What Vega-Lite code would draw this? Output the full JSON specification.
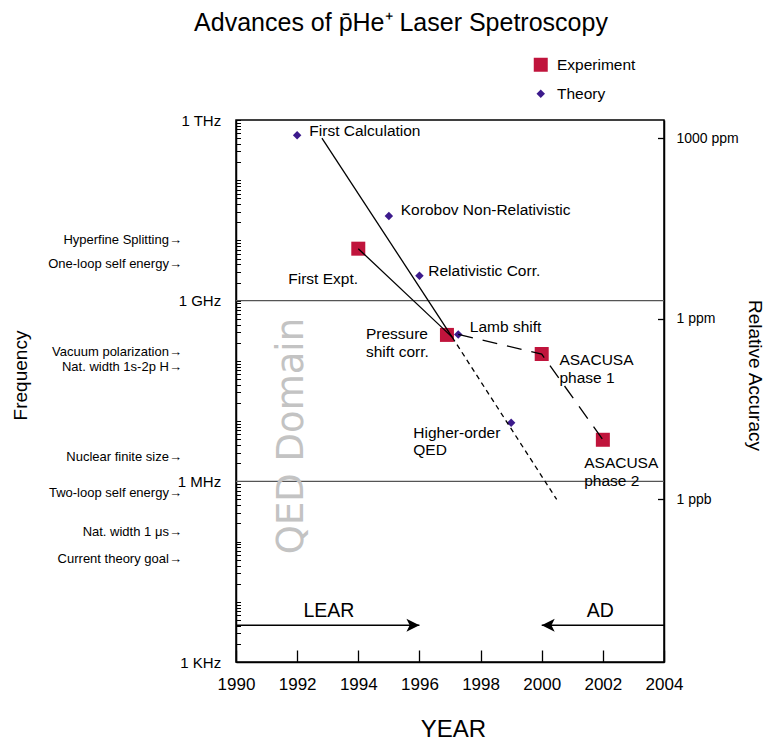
{
  "$schema": "https://vega.github.io/schema/vega-lite/v6.json",
  "width": 428,
  "height": 542,
  "autosize": {"type": "none"},
  "padding": {"left": 236, "top": 120, "right": 100, "bottom": 82},
  "title": {
    "text": "Advances of p̄He⁺ Laser Spetroscopy",
    "font": "Liberation Sans",
    "fontSize": 25,
    "fontWeight": "normal",
    "color": "#000",
    "anchor": "middle",
    "frame": "group",
    "dx": -49,
    "baseline": "alphabetic",
    "offset": 1
  },
  "config": {
    "font": "Liberation Sans",
    "view": {"stroke": "#000", "strokeWidth": 1.5},
    "axis": {
      "labelFont": "Liberation Sans",
      "titleFont": "Liberation Sans",
      "titleFontWeight": "normal",
      "labelColor": "#000",
      "titleColor": "#000",
      "domainColor": "#000",
      "domainWidth": 1.5,
      "tickColor": "#000",
      "grid": false,
      "labelFlush": false,
      "labelOverlap": false,
      "labelBound": false
    },
    "text": {"font": "Liberation Sans"}
  },
  "datasets": {
    "points": [
      {"label": "First Calculation", "type": "Theory", "year": 1992.0, "freq": 5.6e11},
      {"label": "Korobov Non-Relativistic", "type": "Theory", "year": 1995.0, "freq": 2.54e10},
      {"label": "Relativistic Corr.", "type": "Theory", "year": 1996.0, "freq": 2.6e9},
      {"label": "Lamb shift", "type": "Theory", "year": 1997.27, "freq": 2.75e8},
      {"label": "Higher-order QED", "type": "Theory", "year": 1999.0, "freq": 9.4e6},
      {"label": "First Expt.", "type": "Experiment", "year": 1994.0, "freq": 7.3e9},
      {"label": "Pressure shift corr.", "type": "Experiment", "year": 1996.9, "freq": 2.7e8},
      {"label": "ASACUSA phase 1", "type": "Experiment", "year": 2000.0, "freq": 1.3e8},
      {"label": "ASACUSA phase 2", "type": "Experiment", "year": 2002.0, "freq": 4.9e6}
    ],
    "segments": [
      {"seg": "calc", "year": 1992.81, "freq": 5.0e11},
      {"seg": "calc", "year": 1997.07, "freq": 2.48e8},
      {"seg": "expt", "year": 1994.0, "freq": 7.3e9},
      {"seg": "expt", "year": 1997.07, "freq": 2.48e8},
      {"seg": "qed", "year": 1997.07, "freq": 2.48e8},
      {"seg": "qed", "year": 2000.49, "freq": 5.0e5},
      {"seg": "asacusa", "year": 1997.27, "freq": 2.75e8},
      {"seg": "asacusa", "year": 2000.0, "freq": 1.3e8},
      {"seg": "asacusa", "year": 2002.0, "freq": 4.9e6},
      {"seg": "LEAR", "year": 1990.0, "freq": 4.08e3},
      {"seg": "LEAR", "year": 1996.0, "freq": 4.08e3},
      {"seg": "AD", "year": 2000.0, "freq": 4.08e3},
      {"seg": "AD", "year": 2004.0, "freq": 4.08e3}
    ],
    "arrowheads": [
      {"dir": "right", "year": 1996.0, "freq": 4.08e3},
      {"dir": "left", "year": 2000.0, "freq": 4.08e3}
    ],
    "labels": [
      {"label": "First Calculation", "year": 1992.40, "freq": 6.6e11},
      {"label": "Korobov Non-Relativistic", "year": 1995.39, "freq": 3.2e10},
      {"label": "Relativistic Corr.", "year": 1996.29, "freq": 3.1e9},
      {"label": "First Expt.", "year": 1991.71, "freq": 2.3e9},
      {"label": "Lamb shift", "year": 1997.65, "freq": 3.7e8},
      {"label": "Pressure\nshift corr.", "year": 1994.25, "freq": 2.75e8},
      {"label": "ASACUSA\nphase 1", "year": 2000.58, "freq": 1.03e8},
      {"label": "Higher-order\nQED", "year": 1995.80, "freq": 6.4e6},
      {"label": "ASACUSA\nphase 2", "year": 2001.39, "freq": 1.98e6}
    ],
    "scales": [
      {"label": "Hyperfine Splitting→", "year": 1988.23, "freq": 1.0e10},
      {"label": "One-loop self energy→", "year": 1988.23, "freq": 4.0e9},
      {"label": "Vacuum polarization→", "year": 1988.23, "freq": 1.38e8},
      {"label": "Nat. width 1s-2p H→", "year": 1988.23, "freq": 8.0e7},
      {"label": "Nuclear finite size→", "year": 1988.23, "freq": 2.55e6},
      {"label": "Two-loop self energy→", "year": 1988.23, "freq": 6.4e5},
      {"label": "Nat. width 1 μs→", "year": 1988.23, "freq": 1.45e5},
      {"label": "Current theory goal→", "year": 1988.23, "freq": 5.1e4}
    ],
    "zones": [
      {"label": "LEAR", "year": 1993.04, "freq": 7.0e3},
      {"label": "AD", "year": 2001.92, "freq": 7.0e3}
    ],
    "domain": [
      {"label": "QED Domain", "year": 1992.19, "freq": 5.64e6}
    ],
    "bands": [
      {"freq": 1e9},
      {"freq": 1e6}
    ],
    "accuracy": [
      {"acc": 1e-3},
      {"acc": 1e-6},
      {"acc": 1e-9}
    ]
  },
  "layer": [
    {
      "layer": [
        {
          "data": {"name": "bands"},
          "mark": {"type": "rule", "color": "#555", "strokeWidth": 1.3},
          "encoding": {
            "y": {
              "field": "freq",
              "type": "quantitative",
              "scale": {"type": "log", "domain": [1e3, 1e12], "nice": false},
              "axis": {
                "orient": "left",
                "title": "Frequency",
                "titleFontSize": 19,
                "titleAngle": -90,
                "titleX": -210,
                "titleY": 255,
                "titleAlign": "center",
                "titleBaseline": "alphabetic",
                "values": [1e3, 2e3, 3e3, 4e3, 5e3, 6e3, 7e3, 8e3, 9e3,
                           1e4, 2e4, 3e4, 4e4, 5e4, 6e4, 7e4, 8e4, 9e4,
                           1e5, 2e5, 3e5, 4e5, 5e5, 6e5, 7e5, 8e5, 9e5,
                           1e6, 2e6, 3e6, 4e6, 5e6, 6e6, 7e6, 8e6, 9e6,
                           1e7, 2e7, 3e7, 4e7, 5e7, 6e7, 7e7, 8e7, 9e7,
                           1e8, 2e8, 3e8, 4e8, 5e8, 6e8, 7e8, 8e8, 9e8,
                           1e9, 2e9, 3e9, 4e9, 5e9, 6e9, 7e9, 8e9, 9e9,
                           1e10, 2e10, 3e10, 4e10, 5e10, 6e10, 7e10, 8e10, 9e10,
                           1e11, 2e11, 3e11, 4e11, 5e11, 6e11, 7e11, 8e11, 9e11,
                           1e12],
                "labelExpr": "datum.value == 1e12 ? '1 THz' : datum.value == 1e9 ? '1 GHz' : datum.value == 1e6 ? '1 MHz' : datum.value == 1e3 ? '1 KHz' : ''",
                "labelFontSize": 15,
                "tickSize": -4.5,
                "tickWidth": 1,
                "labelPadding": 19.8
              }
            }
          }
        },
        {
          "data": {"name": "points"},
          "mark": {"type": "point", "filled": true, "opacity": 1, "strokeWidth": 0},
          "encoding": {
            "x": {
              "field": "year",
              "type": "quantitative",
              "scale": {"domain": [1990, 2004], "nice": false, "zero": false},
              "axis": {
                "title": "YEAR",
                "titleFontSize": 24,
                "titleX": 217,
                "titleY": 74.7,
                "titleAlign": "center",
                "titleBaseline": "alphabetic",
                "values": [1990, 1992, 1994, 1996, 1998, 2000, 2002, 2004],
                "format": "d",
                "labelFontSize": 17,
                "tickSize": -12,
                "tickWidth": 1.3,
                "labelPadding": 26.7
              }
            },
            "y": {"field": "freq", "type": "quantitative"},
            "color": {
              "field": "type",
              "type": "nominal",
              "scale": {"domain": ["Experiment", "Theory"], "range": ["#c0143c", "#3c1a8c"]},
              "legend": {
                "title": null,
                "orient": "none",
                "legendX": 297,
                "legendY": -63,
                "labelFontSize": 15.5,
                "labelFont": "Liberation Sans",
                "labelColor": "#000",
                "rowPadding": 12,
                "labelOffset": 8.5,
                "symbolStrokeWidth": 0
              }
            },
            "shape": {
              "field": "type",
              "type": "nominal",
              "scale": {"domain": ["Experiment", "Theory"], "range": ["square", "diamond"]}
            },
            "size": {
              "field": "type",
              "type": "nominal",
              "scale": {"domain": ["Experiment", "Theory"], "range": [196, 72]}
            }
          }
        },
        {
          "data": {"name": "segments"},
          "transform": [{"filter": "datum.seg == 'calc' || datum.seg == 'expt'"}],
          "mark": {"type": "line", "color": "#000", "strokeWidth": 1.3},
          "encoding": {
            "x": {"field": "year", "type": "quantitative"},
            "y": {"field": "freq", "type": "quantitative"},
            "detail": {"field": "seg"}
          }
        },
        {
          "data": {"name": "segments"},
          "transform": [{"filter": "datum.seg == 'LEAR' || datum.seg == 'AD'"}],
          "mark": {"type": "line", "color": "#000", "strokeWidth": 1.5},
          "encoding": {
            "x": {"field": "year", "type": "quantitative"},
            "y": {"field": "freq", "type": "quantitative"},
            "detail": {"field": "seg"}
          }
        },
        {
          "data": {"name": "segments"},
          "transform": [{"filter": "datum.seg == 'qed'"}],
          "mark": {"type": "line", "color": "#000", "strokeWidth": 1.3, "strokeDash": [5, 4]},
          "encoding": {
            "x": {"field": "year", "type": "quantitative"},
            "y": {"field": "freq", "type": "quantitative"}
          }
        },
        {
          "data": {"name": "segments"},
          "transform": [{"filter": "datum.seg == 'asacusa'"}],
          "mark": {"type": "line", "color": "#000", "strokeWidth": 1.3, "strokeDash": [15, 10]},
          "encoding": {
            "x": {"field": "year", "type": "quantitative"},
            "y": {"field": "freq", "type": "quantitative"}
          }
        },
        {
          "data": {"name": "arrowheads"},
          "transform": [{"filter": "datum.dir == 'right'"}],
          "mark": {"type": "point", "shape": "M0,0L-2,-1L-1.5,0L-2,1Z", "size": 169, "filled": true, "color": "#000", "opacity": 1, "strokeWidth": 0},
          "encoding": {
            "x": {"field": "year", "type": "quantitative"},
            "y": {"field": "freq", "type": "quantitative"}
          }
        },
        {
          "data": {"name": "arrowheads"},
          "transform": [{"filter": "datum.dir == 'left'"}],
          "mark": {"type": "point", "shape": "M0,0L2,-1L1.5,0L2,1Z", "size": 169, "filled": true, "color": "#000", "opacity": 1, "strokeWidth": 0},
          "encoding": {
            "x": {"field": "year", "type": "quantitative"},
            "y": {"field": "freq", "type": "quantitative"}
          }
        },
        {
          "data": {"name": "labels"},
          "mark": {"type": "text", "align": "left", "baseline": "middle", "fontSize": 15.5, "lineBreak": "\n", "lineHeight": 17.5, "color": "#000"},
          "encoding": {
            "x": {"field": "year", "type": "quantitative"},
            "y": {"field": "freq", "type": "quantitative"},
            "text": {"field": "label"}
          }
        },
        {
          "data": {"name": "scales"},
          "mark": {"type": "text", "align": "right", "baseline": "middle", "fontSize": 13, "color": "#000"},
          "encoding": {
            "x": {"field": "year", "type": "quantitative"},
            "y": {"field": "freq", "type": "quantitative"},
            "text": {"field": "label"}
          }
        },
        {
          "data": {"name": "zones"},
          "mark": {"type": "text", "align": "center", "baseline": "middle", "fontSize": 19.5, "color": "#000"},
          "encoding": {
            "x": {"field": "year", "type": "quantitative"},
            "y": {"field": "freq", "type": "quantitative"},
            "text": {"field": "label"}
          }
        },
        {
          "data": {"name": "domain"},
          "mark": {"type": "text", "align": "center", "baseline": "alphabetic", "angle": 270, "font": "DejaVu Sans", "fontSize": 37, "color": "#c3c3c3"},
          "encoding": {
            "x": {"field": "year", "type": "quantitative"},
            "y": {"field": "freq", "type": "quantitative"},
            "text": {"field": "label"}
          }
        }
      ]
    },
    {
      "data": {"name": "accuracy"},
      "mark": {"type": "point", "opacity": 0},
      "encoding": {
        "y": {
          "field": "acc",
          "type": "quantitative",
          "scale": {"type": "log", "domain": [2e-12, 2e-3], "nice": false},
          "axis": {
            "orient": "right",
            "title": "Relative Accuracy",
            "titleFontSize": 19,
            "titleAngle": 90,
            "titleX": 84,
            "titleY": 255,
            "titleAlign": "center",
            "titleBaseline": "alphabetic",
            "values": [1e-3, 1e-6, 1e-9],
            "labelExpr": "datum.value == 1e-3 ? '1000 ppm' : datum.value == 1e-6 ? '1 ppm' : '1 ppb'",
            "labelFontSize": 14,
            "tickSize": -6.5,
            "tickWidth": 1.3,
            "labelPadding": 18.5
          }
        }
      }
    }
  ],
  "resolve": {"scale": {"y": "independent"}}
}
